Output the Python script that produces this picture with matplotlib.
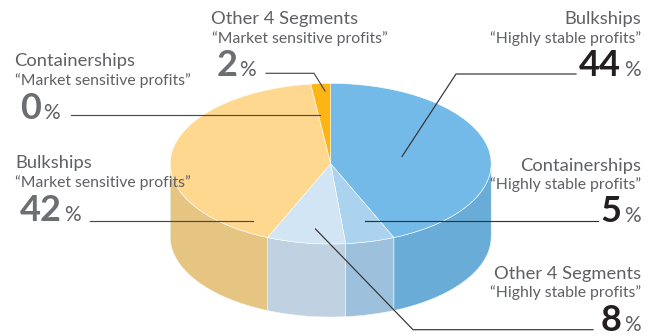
import matplotlib
matplotlib.use("Agg")
import matplotlib.pyplot as plt
import numpy as np

plt.rcParams['font.family'] = ['Lato', 'DejaVu Sans']

segments = ["Bulkships", "Containerships", "Other 4 Segments", "Bulkships", "Containerships", "Other 4 Segments"]
profit_types = ["Highly stable profits"] * 3 + ["Market sensitive profits"] * 3
shares = [44, 5, 8, 42, 0, 2]

top_colors = ["#73BAE8", "#ABD2EF", "#D2E5F5", "#FFD88F", "#FFD88F", "#FDB515"]
side_colors = ["#69ACD8", "#9DC0DC", "#C0D2E2", "#E6C583", "#E6C583", "#E0A413"]

W, H = 657, 336
cx, cy, rx, ry = 330.7, 163.7, 160.5, 80.3
depth = 73 / ry

fig = plt.figure(figsize=(W / 100, H / 100), dpi=100)

# pie axes: one unit is one radius, so the circle comes out as an ellipse
ax = fig.add_axes([0, 0, 1, 1])
ax.pie(shares, colors=top_colors, startangle=90, counterclock=False, radius=1,
       wedgeprops=dict(linewidth=0.4, edgecolor="#FFFFFF", zorder=3))
ax.set_aspect("auto")
ax.set_xlim(-cx / rx, (W - cx) / rx)
ax.set_ylim((cy - H) / ry, cy / ry)

# front wall of the cylinder, only the part between 3 and 9 o'clock is seen
edges = np.cumsum([0] + shares) / sum(shares)
for i in range(len(shares)):
    f0, f1 = max(edges[i], 0.25), min(edges[i + 1], 0.75)
    if f1 <= f0:
        continue
    t = np.linspace(f0, f1, 80) * 2 * np.pi
    x = np.sin(t)
    y = np.cos(t)
    ax.fill(np.r_[x, x[::-1]], np.r_[y, y[::-1] - depth], color=side_colors[i],
            linewidth=0.4, edgecolor="#F4F7FA", zorder=2)

# overlay in pixel coordinates for labels and leader lines
ov = fig.add_axes([0, 0, 1, 1], zorder=5)
ov.patch.set_visible(False)
ov.axis("off")
ov.set_xlim(0, W)
ov.set_ylim(H, 0)

label_color = "#5F6063"
num_left = "#6D6E71"
num_right = "#231F20"


def label(i, x, y_name, y_sub, y_num, x_sub=None, x_num=None, x_pct=None):
    # left-hand labels give x_num and x_pct, right-hand ones are right aligned
    right = x_num is None
    ha = "right" if right else "left"
    ov.text(x, y_name, segments[i], fontsize=13.2, color=label_color, ha=ha, va="baseline")
    ov.text(x if x_sub is None else x_sub, y_sub, "\u201c" + profit_types[i] + "\u201d", fontsize=11.3,
            color=label_color, ha=ha, va="baseline")
    if right:
        ov.text(x, y_num, "%", fontsize=15, color=label_color, ha="right", va="baseline")
        ov.text(x - 20, y_num, str(shares[i]), fontsize=26, color=num_right, ha="right", va="baseline", fontweight="bold")
    else:
        ov.text(x_num, y_num, str(shares[i]), fontsize=26, color=num_left, ha="left", va="baseline", fontweight="bold")
        ov.text(x_pct, y_num, "%", fontsize=15, color=label_color, ha="left", va="baseline")


label(0, 641, 24, 43, 76)
label(1, 641, 171, 189, 222)
label(2, 641, 279, 297, 331)
label(3, 15, 168, 187, 221, x_num=20, x_pct=64)
label(4, 14, 66, 85, 119, x_sub=15, x_num=20, x_pct=43)
label(5, 211, 24, 43, 76, x_sub=212, x_num=217, x_pct=239)

leaders = [
    ([576, 456, 402], [74, 74, 156.5], "#333333"),
    ([598, 364.5], [221, 221], "#333333"),
    ([593, 413, 315.5], [329.7, 329.7, 229], "#333333"),
    ([90, 253], [221, 221], "#4A4A4A"),
    ([71, 320], [115, 115], "#4A4A4A"),
    ([266, 314, 325], [73.3, 73.3, 91], "#4A4A4A"),
]
for xs, ys, c in leaders:
    ov.plot(xs, ys, color=c, linewidth=0.85, solid_joinstyle="miter")

fig.savefig("out.png", dpi=100)
